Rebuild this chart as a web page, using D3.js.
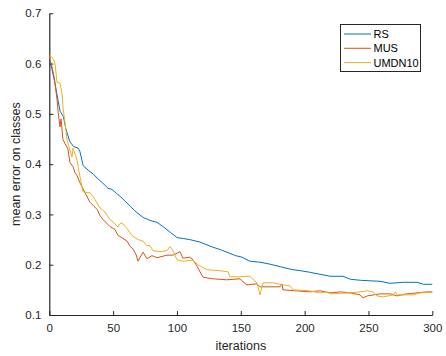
<!DOCTYPE html>
<html><head><meta charset="utf-8">
<script src="https://cdn.jsdelivr.net/npm/d3@7"></script>
<style>body{margin:0;background:#fff}svg{display:block}text{font-family:"Liberation Sans",Arial,sans-serif}</style>
</head><body><svg id="c" width="446" height="356"></svg>
<script>
const seriesNames = ["RS", "MUS", "UMDN10"];
const seriesColors = ["#0072BD", "#D95319", "#EDB120"];
const xTicks = [0, 50, 100, 150, 200, 250, 300];
const yTicks = [0.1, 0.2, 0.3, 0.4, 0.5, 0.6, 0.7];
const rs = [[0,0.605],[2,0.59],[4.5,0.56],[7,0.525],[8.5,0.505],[11,0.495],[13,0.47],[16,0.445],[19,0.435],[22.5,0.432],[24,0.425],[26.5,0.397],[30.5,0.388],[34.5,0.38],[38.5,0.37],[42,0.362],[46,0.352],[49,0.35],[52.5,0.342],[55.5,0.336],[59.5,0.326],[63.5,0.316],[68,0.305],[73.5,0.294],[79,0.288],[84.5,0.284],[89,0.276],[95,0.264],[100,0.254],[105,0.252],[110,0.25],[118,0.245],[128,0.235],[134,0.23],[139,0.225],[146,0.218],[151,0.215],[157,0.207],[165,0.205],[173,0.201],[181,0.196],[189,0.191],[197,0.188],[204,0.185],[212,0.181],[220,0.177],[230,0.177],[236,0.171],[244,0.169],[251,0.168],[259,0.167],[267,0.163],[277,0.165],[288,0.165],[293,0.161],[300,0.161]];
const mus = [[0,0.615],[2,0.595],[4,0.57],[6,0.53],[7,0.502],[8.4,0.474],[9.2,0.49],[10.7,0.449],[14.6,0.43],[16.2,0.403],[18.6,0.395],[20.1,0.383],[21.6,0.378],[24,0.363],[28,0.343],[31.9,0.324],[37.4,0.31],[39.7,0.298],[42,0.29],[47.5,0.276],[51.5,0.27],[53.8,0.258],[55.4,0.256],[60.9,0.247],[63.2,0.237],[65.6,0.231],[68,0.22],[69.5,0.207],[73.4,0.225],[76.5,0.212],[80.4,0.218],[84.4,0.214],[92.2,0.219],[96.9,0.219],[102.4,0.226],[104.7,0.213],[110,0.215],[112.6,0.21],[115.7,0.197],[120.4,0.175],[128,0.172],[139,0.17],[149.4,0.172],[151.7,0.166],[154.8,0.16],[162.7,0.162],[165,0.156],[170.5,0.156],[180.7,0.156],[182.3,0.162],[183,0.15],[194,0.148],[204,0.146],[212,0.148],[220,0.144],[228,0.146],[235.5,0.144],[243.4,0.14],[245.7,0.134],[249,0.138],[259,0.142],[267,0.142],[272.3,0.138],[280,0.142],[288,0.144],[296,0.146],[300,0.146]];
const umdn = [[0,0.617],[3,0.61],[4.5,0.6],[6,0.563],[8.4,0.561],[10,0.541],[10.7,0.513],[12.3,0.482],[13.9,0.448],[16.2,0.428],[17.8,0.414],[18.6,0.432],[21.7,0.408],[24,0.375],[26.4,0.345],[31.9,0.343],[34.2,0.336],[37.4,0.323],[39.7,0.313],[43.6,0.305],[47.5,0.29],[49.9,0.285],[53.8,0.275],[55.4,0.282],[57,0.283],[60.9,0.272],[64.8,0.258],[69.5,0.25],[73.4,0.247],[76.5,0.238],[78.9,0.238],[81.2,0.228],[86.7,0.226],[92.2,0.228],[94.5,0.236],[96.9,0.228],[100,0.21],[104.7,0.207],[112.6,0.209],[116.5,0.2],[123.5,0.19],[133.7,0.188],[140,0.186],[141.5,0.176],[149.4,0.176],[157.2,0.177],[159.6,0.171],[162.7,0.164],[165,0.14],[167.4,0.164],[175.2,0.164],[183,0.16],[188.5,0.158],[190.9,0.15],[204,0.148],[212,0.144],[217.5,0.146],[220,0.142],[235.5,0.144],[243.4,0.146],[249,0.148],[253.6,0.146],[256.5,0.138],[261.6,0.136],[269.5,0.14],[271,0.146],[272.3,0.14],[285,0.14],[290.5,0.144],[300,0.145]];
const allSeries = [rs, mus, umdn];

const svg = d3.select("#c");
const L = 49.3, R = 432.3, T = 13.3, B = 315;
const x = d3.scaleLinear().domain([0, 300]).range([L, R]);
const y = d3.scaleLinear().domain([0.1, 0.7]).range([B, T]);
const axisColor = "#262626";

const gx = svg.append("g").attr("transform", `translate(0,${B})`)
  .call(d3.axisBottom(x).tickValues(xTicks).tickSizeInner(-4).tickSizeOuter(0).tickPadding(9));
const gy = svg.append("g").attr("transform", `translate(${L},0)`)
  .call(d3.axisLeft(y).tickValues(yTicks).tickFormat(d3.format(".1f")).tickSizeInner(-4).tickSizeOuter(0).tickPadding(8));
[gx, gy].forEach(g => {
  g.select(".domain").attr("stroke", axisColor).attr("stroke-width", 1.2);
  g.selectAll(".tick line").attr("stroke", axisColor).attr("stroke-width", 1);
  g.selectAll(".tick text").attr("fill", axisColor).style("font-size", "11.5px");
});

const line = d3.line().x(d => x(d[0])).y(d => y(d[1]));
allSeries.forEach((s, i) => {
  svg.append("path").datum(s).attr("d", line).attr("fill", "none")
    .attr("stroke", seriesColors[i]).attr("stroke-width", 1).attr("stroke-linejoin", "round");
});

svg.append("text").attr("x", (L + R) / 2).attr("y", 350).attr("text-anchor", "middle")
  .attr("fill", axisColor).style("font-size", "12.5px").text("iterations");
svg.append("text").attr("transform", `translate(20,${(T + B) / 2}) rotate(-90)`).attr("text-anchor", "middle")
  .attr("fill", axisColor).style("font-size", "12.5px").text("mean error on classes");

const lg = svg.append("g");
lg.append("rect").attr("x", 340.5).attr("y", 24.5).attr("width", 80).attr("height", 47)
  .attr("fill", "#fff").attr("stroke", axisColor).attr("stroke-width", 1);
seriesNames.forEach((n, i) => {
  const yy = 34 + i * 14.3;
  lg.append("line").attr("x1", 344).attr("x2", 371).attr("y1", yy).attr("y2", yy)
    .attr("stroke", seriesColors[i]).attr("stroke-width", 1);
  lg.append("text").attr("x", 373.5).attr("y", yy + 4).attr("fill", "#000")
    .style("font-size", "11px").text(n);
});
</script></body></html>
